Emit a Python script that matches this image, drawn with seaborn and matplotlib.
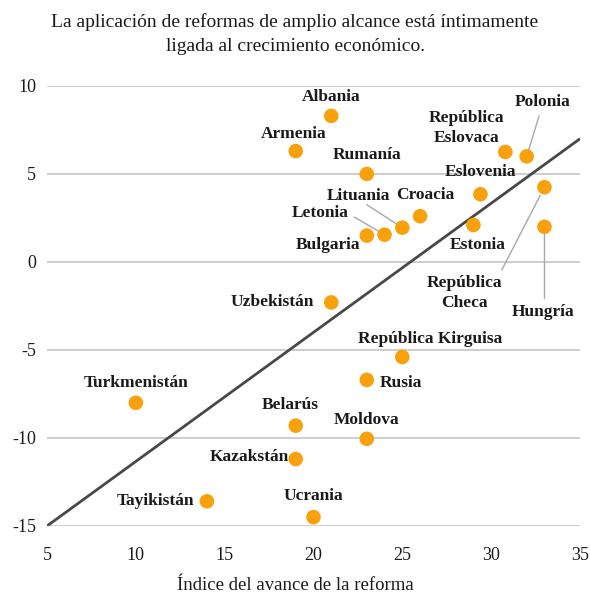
import matplotlib
matplotlib.use("Agg")
import matplotlib.pyplot as plt
import pandas as pd
import seaborn as sns

# ── Data ────────────────────────────
countries = [
    "Albania", "Armenia", "Rumanía", "República\nEslovaca", "Polonia",
    "Eslovenia", "Croacia", "Lituania", "Letonia", "Bulgaria", "Estonia",
    "República\nCheca", "Hungría", "Uzbekistán", "República Kirguisa",
    "Rusia", "Turkmenistán", "Belarús", "Moldova", "Kazakstán",
    "Tayikistán", "Ucrania",
]
reform_index = [21, 19, 23, 30.8, 32, 29.4, 26, 25, 24, 23, 29,
                33, 33, 21, 25, 23, 10, 19, 23, 19, 14, 20]
growth = [8.3, 6.3, 5.0, 6.25, 6.0, 3.85, 2.6, 1.95, 1.55, 1.5, 2.1,
          4.25, 2.0, -2.3, -5.4, -6.7, -8.0, -9.3, -10.05, -11.2, -13.6, -14.5]
trend_x = [5, 35]
trend_y = [-15, 7]
x_ticks = [5, 10, 15, 20, 25, 30, 35]
y_ticks = [-15, -10, -5, 0, 5, 10]

# label placement (data coords) and whether a leader line is drawn
label_pos = {
    "Albania": (21, 9.35, False),
    "Armenia": (18.9, 7.25, False),
    "Rumanía": (23, 6.05, False),
    "República\nEslovaca": (28.6, 7.6, False),
    "Polonia": (32.9, 9.1, True),
    "Eslovenia": (29.4, 5.1, False),
    "Croacia": (26.3, 3.8, False),
    "Lituania": (22.5, 3.75, True),
    "Letonia": (20.4, 2.8, True),
    "Bulgaria": (20.8, 0.95, False),
    "Estonia": (29.25, 0.95, False),
    "República\nCheca": (28.5, -1.75, True),
    "Hungría": (32.9, -2.85, True),
    "Uzbekistán": (17.7, -2.25, False),
    "República Kirguisa": (26.55, -4.35, False),
    "Rusia": (24.9, -6.9, False),
    "Turkmenistán": (10, -6.85, False),
    "Belarús": (18.7, -8.1, False),
    "Moldova": (23, -9.0, False),
    "Kazakstán": (16.4, -11.1, False),
    "Tayikistán": (11.1, -13.6, False),
    "Ucrania": (20, -13.3, False),
}
# leader line start points (near label) in data coords
leader_start = {
    "Polonia": (32.7, 8.3),
    "Lituania": (23.0, 3.25),
    "Letonia": (22.3, 2.55),
    "República\nCheca": (30.6, -0.45),
    "Hungría": (33.0, -2.05),
}

df = pd.DataFrame({"country": countries, "reform": reform_index, "growth": growth})

# ── Plot styling ────────────────────────────
sns.set_style("white")
plt.rcParams["font.family"] = ["Liberation Serif", "DejaVu Serif"]

ORANGE = "#F8A10C"
GRID = "#C0C0C0"
LINE = "#484848"

fig = plt.figure(figsize=(5.9, 5.97), dpi=100)
ax = fig.add_axes([0.0797, 0.119, 0.9033, 0.737])

for y in y_ticks:
    ax.axhline(y, color=GRID, lw=1.1, zorder=0)

ax.plot(trend_x, trend_y, color=LINE, lw=2, zorder=1, solid_capstyle="butt")

for name, (lx, ly, lead) in label_pos.items():
    if lead:
        px, py = df.loc[df.country == name, ["reform", "growth"]].iloc[0]
        sx, sy = leader_start[name]
        # stop short of the marker
        ex = sx + (px - sx) * 0.9
        ey = sy + (py - sy) * 0.9
        ax.plot([sx, ex], [sy, ey], color="#A8A8A8", lw=1, zorder=1)

sns.scatterplot(data=df, x="reform", y="growth", ax=ax, color=ORANGE,
                s=110, edgecolor="none", zorder=3, clip_on=False)

for name, (lx, ly, lead) in label_pos.items():
    ax.text(lx, ly, name, ha="center", va="center", fontsize=12.5,
            fontweight="bold", color="#1a1a1a", linespacing=1.3, zorder=4)

ax.set_xlim(5, 35)
ax.set_ylim(-15, 10)
ax.set_xticks(x_ticks)
ax.set_yticks(y_ticks)
ax.set_xticklabels([str(t) for t in x_ticks], fontsize=13)
ax.set_yticklabels([str(t) for t in y_ticks], fontsize=13)
ax.tick_params(axis="both", length=0, colors="#1a1a1a")
ax.tick_params(axis="x", pad=15)
ax.tick_params(axis="y", pad=8)
for s in ax.spines.values():
    s.set_visible(False)

ax.set_xlabel("")
ax.set_ylabel("")
fig.text(0.5, 0.02, "Índice del avance de la reforma", ha="center", va="center",
         fontsize=13.5, color="#1a1a1a")

fig.text(0.5, 0.943, "La aplicación de reformas de amplio alcance está íntimamente\n"
         "ligada al crecimiento económico.", ha="center", va="center",
         fontsize=14, color="#1a1a1a", linespacing=1.6)

fig.savefig("out.png", dpi=100)
plt.close(fig)
